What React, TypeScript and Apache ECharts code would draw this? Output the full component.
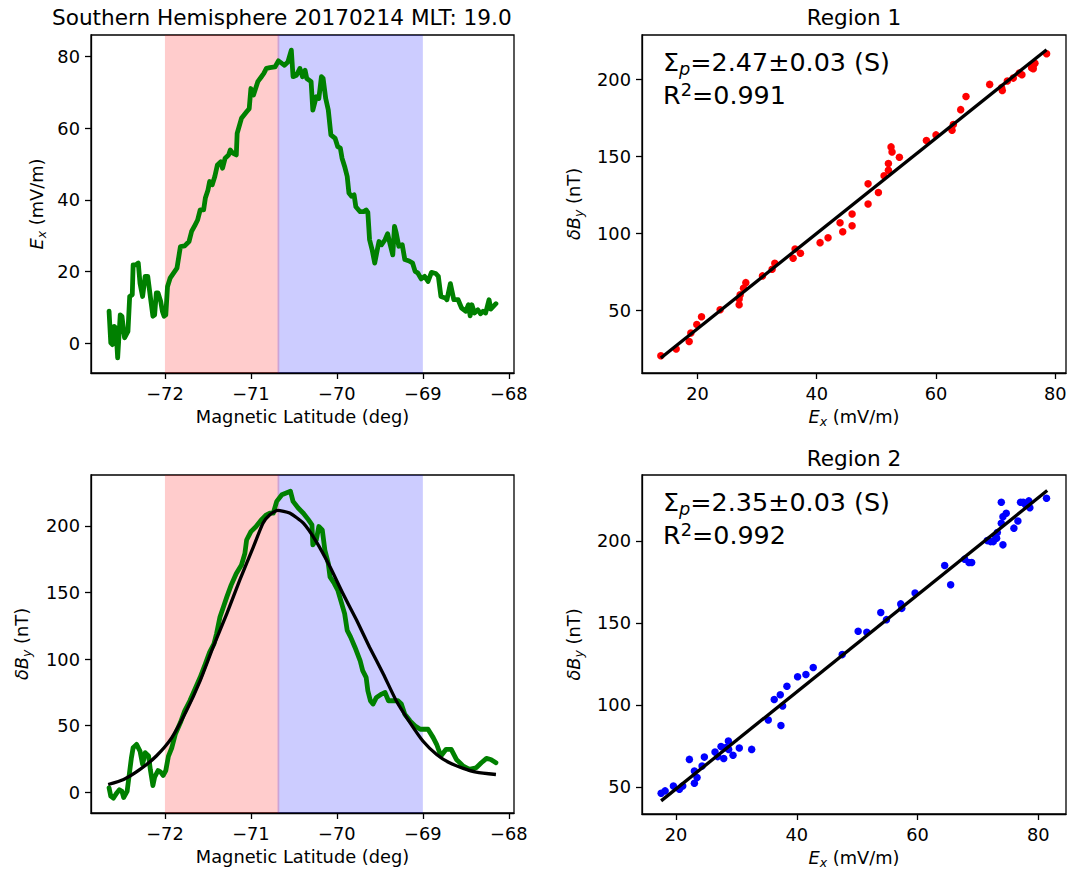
import React, { useEffect, useRef } from "react";
import * as echarts from "echarts";

const FONT = "DejaVu Sans";
const LABEL_SIZE = 17.8;

// ---- Top-left: E_x vs magnetic latitude ----
const exLat = [
  -72.65, -72.63, -72.61, -72.59, -72.57, -72.55, -72.52, -72.5, -72.47, -72.43, -72.41, -72.38, -72.37, -72.34,
  -72.31, -72.29, -72.26, -72.23, -72.2, -72.17, -72.14, -72.12, -72.1, -72.08, -72.05, -72.03, -72.01, -71.99,
  -71.97, -71.94, -71.9, -71.86, -71.82, -71.77, -71.72, -71.69, -71.65, -71.62, -71.59, -71.55, -71.53, -71.5,
  -71.48, -71.45, -71.42, -71.39, -71.35, -71.33, -71.3, -71.26, -71.24, -71.21, -71.17, -71.16, -71.11, -71.05,
  -71.02, -71.0, -70.97, -70.92, -70.88, -70.85, -70.82, -70.78, -70.72, -70.68, -70.64, -70.61, -70.57, -70.53,
  -70.51, -70.47, -70.43, -70.4, -70.37, -70.35, -70.3, -70.28, -70.24, -70.21, -70.18, -70.16, -70.13, -70.1,
  -70.07, -70.02, -69.99, -69.96, -69.94, -69.91, -69.88, -69.86, -69.83, -69.8, -69.78, -69.73, -69.69, -69.66,
  -69.64, -69.62, -69.59, -69.56, -69.53, -69.51, -69.48, -69.44, -69.41, -69.38, -69.35, -69.33, -69.31, -69.28,
  -69.24, -69.21, -69.16, -69.12, -69.09, -69.06, -69.02, -68.98, -68.94, -68.9, -68.85, -68.82, -68.79, -68.74,
  -68.72, -68.68, -68.64, -68.59, -68.55, -68.5, -68.47, -68.45, -68.43, -68.4, -68.36, -68.33, -68.3, -68.27,
  -68.23, -68.21, -68.15,
];
const exValues = [
  9.0, 0.2, -0.3, 4.8, 4.3, -4.0, 8.0, 7.6, 1.6, 3.4, 13.1, 13.6, 21.9, 21.9,
  22.4, 16.8, 13.1, 18.7, 18.7, 13.1, 7.6, 8.0, 14.1, 14.1, 11.8, 9.0, 7.6, 8.0,
  15.9, 18.2, 19.6, 21.0, 27.0, 27.2, 28.4, 31.2, 33.0, 34.4, 37.2, 37.2, 40.5, 42.7,
  45.1, 44.2, 46.5, 49.7, 50.6, 48.8, 51.6, 52.5, 53.9, 53.0, 52.5, 58.5, 62.7, 64.5,
  65.4, 71.0, 69.2, 72.9, 74.2, 75.2, 76.6, 76.8, 77.0, 78.7, 78.0, 77.5, 78.4, 81.7,
  74.3, 74.7, 76.6, 74.3, 76.1, 73.8, 72.9, 65.0, 68.7, 68.2, 74.3, 73.8, 68.2, 65.0,
  58.1, 57.1, 54.8, 54.4, 51.6, 49.3, 46.5, 41.9, 41.0, 41.4, 38.1, 36.7, 36.7, 37.2,
  36.5, 28.9, 26.1, 22.4, 26.1, 28.4, 27.5, 28.9, 30.6, 27.5, 24.7, 32.6, 30.8, 27.1,
  27.5, 23.4, 23.0, 22.4, 20.1, 19.7, 18.0, 18.7, 17.3, 19.8, 19.5, 18.7, 13.1, 12.7,
  12.2, 16.7, 12.2, 12.2, 9.9, 9.0, 10.8, 7.7, 10.8, 8.5, 9.4, 8.3, 9.0, 8.5,
  12.2, 9.6, 11.1,
];

// ---- Bottom-left: dB_y vs magnetic latitude ----
const dbyLat = [
  -72.65, -72.63, -72.6, -72.56, -72.53, -72.5, -72.48, -72.44, -72.41, -72.39, -72.37, -72.33, -72.29, -72.26,
  -72.23, -72.19, -72.17, -72.14, -72.12, -72.08, -72.05, -72.02, -71.99, -71.96, -71.92, -71.88, -71.82, -71.77,
  -71.71, -71.65, -71.59, -71.53, -71.48, -71.43, -71.4, -71.36, -71.32, -71.28, -71.23, -71.17, -71.11, -71.07,
  -71.05, -71.0, -70.94, -70.88, -70.82, -70.78, -70.74, -70.7, -70.64, -70.59, -70.54, -70.51, -70.45, -70.39,
  -70.33, -70.29, -70.28, -70.24, -70.21, -70.17, -70.14, -70.1, -70.08, -70.03, -69.99, -69.95, -69.91, -69.88,
  -69.84, -69.79, -69.73, -69.7, -69.66, -69.64, -69.61, -69.58, -69.54, -69.48, -69.44, -69.4, -69.34, -69.29,
  -69.25, -69.21, -69.15, -69.09, -69.03, -68.98, -68.94, -68.88, -68.84, -68.79, -68.73, -68.67, -68.61, -68.53,
  -68.46, -68.38, -68.32, -68.26, -68.21, -68.15,
];
const dbyValues = [
  3.3, -3.0, -4.5, -0.5, 1.9, 0.7, -4.0, 0.6, 15.8, 25.9, 33.4, 35.9, 30.9, 20.9,
  29.7, 27.2, 17.1, 5.0, 11.3, 16.3, 15.1, 12.6, 16.3, 26.9, 33.4, 43.5, 52.3, 61.1,
  68.7, 77.5, 86.3, 96.4, 105.2, 111.4, 119.0, 131.6, 139.1, 146.7, 155.5, 164.3, 170.6, 179.4,
  189.4, 195.7, 199.5, 204.5, 208.3, 209.5, 209.5, 218.4, 223.4, 224.7, 226.0, 218.4, 213.4, 209.5,
  204.5, 200.7, 185.7, 189.4, 199.5, 197.0, 181.9, 171.8, 161.7, 156.7, 151.7, 142.9, 134.1, 121.5,
  116.5, 108.9, 98.9, 91.3, 86.3, 76.2, 68.7, 66.2, 71.2, 73.7, 74.9, 68.7, 68.7, 68.7,
  66.2, 58.6, 53.6, 49.8, 47.3, 47.3, 47.3, 41.0, 36.0, 27.2, 32.2, 32.2, 24.6, 19.6,
  17.1, 18.4, 22.1, 25.4, 24.6, 22.1,
];
const fitLat = [
  -72.66, -72.48, -72.29, -72.1, -71.92, -71.75, -71.59, -71.44, -71.28, -71.13, -70.97, -70.86, -70.78, -70.69,
  -70.55, -70.39, -70.24, -70.08, -69.93, -69.77, -69.62, -69.46, -69.31, -69.15, -69.0, -68.84, -68.69, -68.53,
  -68.38, -68.15,
];
const fitValues = [
  5.8, 9.6, 17.1, 27.2, 41.0, 61.1, 83.8, 108.9, 134.1, 159.2, 184.4, 202.0, 208.3, 211.6,
  209.6, 202.0, 188.2, 169.3, 149.2, 129.1, 108.9, 88.8, 68.7, 52.3, 38.5, 28.4, 22.1, 17.9,
  15.1, 13.3,
];

// Shaded regions (magnetic latitude)
const region1Span = [-72.0, -70.67];
const region2Span = [-70.69, -69.0];

// ---- Top-right: Region 1 scatter ----
const r1Ex = [
  13.86, 16.43, 18.61, 18.89, 19.89, 20.68, 23.8, 26.99, 26.99, 27.16, 27.72, 28.11, 30.9, 32.52, 32.97, 36.04,
  36.37, 37.27, 40.56, 41.9, 43.91, 44.36, 45.93, 45.93, 48.61, 48.61, 50.34, 51.29, 52.02, 52.02, 52.46, 52.63,
  53.86, 58.39, 60.0, 62.69, 62.91, 64.14, 65.03, 69.0, 71.0, 71.12, 71.96, 72.96, 73.97, 74.41, 76.03, 76.31,
  76.59, 76.31, 78.55,
];
const r1dBy = [
  20.6, 25.0, 29.9, 35.4, 40.9, 45.9, 50.5, 53.7, 57.4, 60.2, 64.5, 68.1, 72.5, 76.8, 80.7, 84.0,
  90.0, 87.2, 94.1, 97.3, 107.0, 101.2, 112.7, 105.1, 132.3, 119.2, 126.7, 137.5, 145.5, 141.2, 156.3, 153.0,
  149.6, 160.4, 164.1, 167.1, 170.8, 180.5, 189.0, 196.9, 194.8, 193.0, 199.1, 201.0, 204.3, 203.2, 207.7, 209.2,
  210.7, 207.1, 216.8,
];
const r1FitEx = [13.86, 78.55];
const r1FitdBy = [19.2, 219.4];

// ---- Bottom-right: Region 2 scatter ----
const r2Ex = [
  17.52, 18.18, 19.55, 20.55, 21.1, 22.2, 23.03, 23.03, 23.47, 24.3, 24.68, 26.45, 26.89, 27.44, 27.89, 28.27,
  28.66, 28.71, 29.43, 30.47, 32.52, 35.27, 36.26, 37.26, 37.37, 37.65, 38.36, 40.13, 41.51, 42.72, 47.52, 50.16,
  51.6, 53.91, 54.85, 57.22, 57.39, 59.59, 64.5, 65.49, 67.81, 68.52, 68.97, 71.56, 72.11, 72.56, 72.94, 73.22,
  73.1, 74.15, 73.88, 74.15, 74.7, 73.88, 75.97, 76.63, 77.07, 77.51, 77.9, 78.44, 78.61, 81.37,
];
const r2dBy = [
  46.2, 47.6, 50.6, 48.6, 50.6, 66.8, 52.3, 59.7, 55.7, 62.8, 68.2, 71.3, 68.5, 74.6, 67.3, 74.0,
  78.0, 72.9, 69.3, 73.7, 72.9, 90.8, 103.3, 106.2, 87.5, 99.3, 111.4, 117.2, 118.6, 122.8, 130.7, 144.9,
  144.3, 156.4, 152.0, 161.6, 158.9, 168.2, 185.0, 173.3, 188.9, 186.9, 186.9, 200.2, 199.6, 199.6, 202.7, 205.1,
  201.7, 197.6, 210.8, 214.8, 216.9, 223.6, 207.8, 212.1, 223.6, 223.6, 222.0, 224.4, 220.3, 226.0,
];
const r2FitEx = [17.52, 81.49];
const r2FitdBy = [41.5, 230.7];

// Tick values
const latTicks = [-72, -71, -70, -69, -68];
const exTicks = [0, 20, 40, 60, 80];
const dbyTicksLeft = [0, 50, 100, 150, 200];
const exTicksScatter = [20, 40, 60, 80];
const dbyTicksScatter = [50, 100, 150, 200];

// Texts
const mainTitle = "Southern Hemisphere 20170214 MLT: 19.0";
const region1Title = "Region 1";
const region2Title = "Region 2";
const region1Sigma = "2.47±0.03 (S)";
const region1R2 = "0.991";
const region2Sigma = "2.35±0.03 (S)";
const region2R2 = "0.992";

const zip = (a: number[], b: number[]) => a.map((v, i) => [v, b[i]]);

const RICH = {
  i: { fontFamily: FONT, fontSize: LABEL_SIZE, fontStyle: "italic", color: "#000", lineHeight: 23 },
  s: { fontFamily: FONT, fontSize: 12.5, fontStyle: "italic", color: "#000", lineHeight: 13, verticalAlign: "bottom" },
};
const RICH_BIG = {
  n: { fontFamily: FONT, fontSize: 25.4, color: "#000", lineHeight: 30 },
  s: { fontFamily: FONT, fontSize: 17.8, fontStyle: "italic", color: "#000", lineHeight: 16, verticalAlign: "bottom" },
  sup: { fontFamily: FONT, fontSize: 17.8, color: "#000", lineHeight: 16, verticalAlign: "top" },
};

function axis(
  gridIndex: number,
  min: number,
  max: number,
  ticks: number[],
  name: string,
  nameGap: number,
  isY: boolean
) {
  return {
    type: "value",
    gridIndex,
    min,
    max,
    name,
    nameLocation: "middle",
    nameGap,
    nameRotate: isY ? 90 : 0,
    nameTextStyle: { fontFamily: FONT, fontSize: LABEL_SIZE, color: "#000", lineHeight: 23, rich: RICH },
    axisLine: { show: true, onZero: false, lineStyle: { color: "#000", width: 1.3 } },
    axisTick: { show: true, length: 6, inside: false, customValues: ticks, lineStyle: { color: "#000", width: 1.3 } },
    axisLabel: {
      customValues: ticks,
      margin: 11,
      fontFamily: FONT,
      fontSize: LABEL_SIZE,
      color: "#000",
      formatter: (v: number) => String(v).replace("-", "\u2212"),
    },
    splitLine: { show: false },
  };
}

function makeOption() {
  const grids = [
    { left: 91, top: 35, width: 423, height: 338 },
    { left: 642, top: 35, width: 424, height: 338 },
    { left: 91, top: 475, width: 423, height: 338 },
    { left: 642, top: 475, width: 424, height: 339 },
  ].map((g) => ({ ...g, show: true, borderColor: "#000", borderWidth: 1.3, backgroundColor: "transparent" }));

  const latName = "Magnetic Latitude (deg)";
  const exName = "{i|E}{s|x} (mV/m)";
  const dbyName = "{i|δB}{s|y} (nT)";

  const xAxis = [
    axis(0, -72.86, -67.94, latTicks, latName, 32, false),
    axis(1, 10.7, 81.8, exTicksScatter, exName, 32, false),
    axis(2, -72.86, -67.94, latTicks, latName, 32, false),
    axis(3, 14.35, 84.6, exTicksScatter, exName, 32, false),
  ];
  const yAxis = [
    axis(0, -8.2, 85.9, exTicks, exName, 43, true),
    axis(1, 9.4, 229.0, dbyTicksScatter, dbyName, 57, true),
    axis(2, -15.6, 238.2, dbyTicksLeft, dbyName, 58, true),
    axis(3, 33.5, 240.2, dbyTicksScatter, dbyName, 57, true),
  ];

  const spanArea = {
    silent: true,
    data: [
      [{ xAxis: region1Span[0], itemStyle: { color: "rgba(255,0,0,0.2)" } }, { xAxis: region1Span[1] }],
      [{ xAxis: region2Span[0], itemStyle: { color: "rgba(0,0,255,0.2)" } }, { xAxis: region2Span[1] }],
    ],
  };

  const greenLine = (idx: number, data: number[][], withArea: boolean) => ({
    type: "line",
    xAxisIndex: idx,
    yAxisIndex: idx,
    data,
    symbol: "none",
    lineStyle: { color: "#008000", width: 4.8, join: "round", cap: "round" },
    itemStyle: { color: "#008000" },
    markArea: withArea ? spanArea : undefined,
    z: 3,
  });

  const series: any[] = [
    greenLine(0, zip(exLat, exValues), true),
    greenLine(2, zip(dbyLat, dbyValues), true),
    {
      type: "line",
      xAxisIndex: 2,
      yAxisIndex: 2,
      data: zip(fitLat, fitValues),
      symbol: "none",
      smooth: 0.2,
      lineStyle: { color: "#000", width: 3.3, join: "round" },
      z: 4,
    },
    {
      type: "scatter",
      xAxisIndex: 1,
      yAxisIndex: 1,
      data: zip(r1Ex, r1dBy),
      symbolSize: 7.5,
      itemStyle: { color: "#ff0000", opacity: 1 },
      z: 3,
    },
    {
      type: "line",
      xAxisIndex: 1,
      yAxisIndex: 1,
      data: zip(r1FitEx, r1FitdBy),
      symbol: "none",
      lineStyle: { color: "#000", width: 3.3 },
      z: 4,
    },
    {
      type: "scatter",
      xAxisIndex: 3,
      yAxisIndex: 3,
      data: zip(r2Ex, r2dBy),
      symbolSize: 7.5,
      itemStyle: { color: "#0000ff", opacity: 1 },
      z: 3,
    },
    {
      type: "line",
      xAxisIndex: 3,
      yAxisIndex: 3,
      data: zip(r2FitEx, r2FitdBy),
      symbol: "none",
      lineStyle: { color: "#000", width: 3.3 },
      z: 4,
    },
  ];

  const txt = (x: number, y: number, text: string, size: number, align: string, rich?: any) => ({
    type: "text",
    x,
    y,
    z: 100,
    style: {
      text,
      fontFamily: FONT,
      fontSize: size,
      fill: "#000",
      align,
      verticalAlign: "middle",
      rich,
    },
  });

  const graphic = [
    txt(52, 17, mainTitle, 21.6, "left"),
    txt(854, 17, region1Title, 21.6, "center"),
    txt(854, 458, region2Title, 21.6, "center"),
    txt(663, 62, "{n|Σ}{s|p}{n|=" + region1Sigma + "}", 25.4, "left", RICH_BIG),
    txt(663, 95, "{n|R}{sup|2}{n|=" + region1R2 + "}", 25.4, "left", RICH_BIG),
    txt(663, 502, "{n|Σ}{s|p}{n|=" + region2Sigma + "}", 25.4, "left", RICH_BIG),
    txt(663, 535, "{n|R}{sup|2}{n|=" + region2R2 + "}", 25.4, "left", RICH_BIG),
  ];

  return {
    animation: false,
    backgroundColor: "#fff",
    textStyle: { fontFamily: FONT },
    grid: grids,
    xAxis,
    yAxis,
    series,
    graphic,
  };
}

export default function App() {
  const ref = useRef<HTMLDivElement>(null);
  useEffect(() => {
    document.body.style.margin = "0";
    const chart = echarts.init(ref.current!, null, { renderer: "svg" });
    chart.setOption(makeOption() as any);
    return () => chart.dispose();
  }, []);
  return <div ref={ref} style={{ width: 1083, height: 873 }} />;
}
